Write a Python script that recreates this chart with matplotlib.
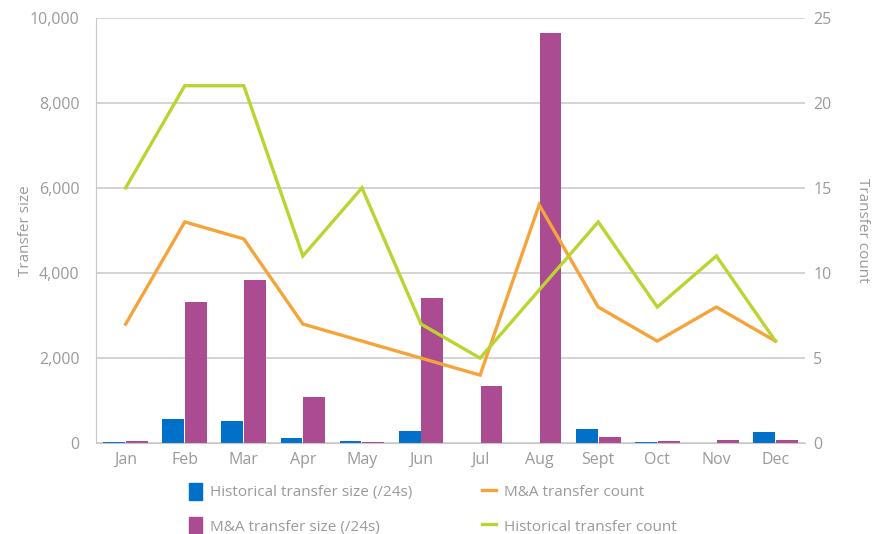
#!/usr/bin/env python3
"""Monthly transfer size (bars) and transfer count (lines) on twin axes."""
import numpy as np
import matplotlib.pyplot as plt
from matplotlib.patches import Patch
from matplotlib.lines import Line2D

MONTHS = ["Jan", "Feb", "Mar", "Apr", "May", "Jun", "Jul", "Aug", "Sept", "Oct", "Nov", "Dec"]
HIST_SIZE = [25, 565, 520, 115, 45, 280, 0, 0, 330, 25, 0, 260]
MA_SIZE = [45, 3320, 3835, 1080, 25, 3410, 1340, 9650, 140, 45, 70, 70]
MA_COUNT = [7, 13, 12, 7, 6, 5, 4, 14, 8, 6, 8, 6]
HIST_COUNT = [15, 21, 21, 11, 15, 7, 5, 9, 13, 8, 11, 6]

BLUE = "#0070c9"
PURPLE = "#ab4b91"
ORANGE = "#f6a43a"
GREEN = "#bad531"
GRID = "#c8c8c8"
TEXT = "#9a9a9a"

plt.rcParams["font.family"] = ["Open Sans", "DejaVu Sans"]

fig = plt.figure(figsize=(8.74, 5.34), dpi=100)
ax = fig.add_axes([0.110, 0.170, 0.811, 0.797])
ax2 = ax.twinx()

x = np.arange(len(MONTHS))
w = 0.37
ax.bar(x - w / 2 - 0.008, HIST_SIZE, width=w, color=BLUE, zorder=2)
ax.bar(x + w / 2 + 0.008, MA_SIZE, width=w, color=PURPLE, zorder=2)

ax2.plot(x, MA_COUNT, color=ORANGE, linewidth=2.4, solid_joinstyle="miter")
ax2.plot(x, HIST_COUNT, color=GREEN, linewidth=2.4, solid_joinstyle="miter")

ax.set_xlim(-0.5, len(MONTHS) - 0.5)
ax.set_ylim(0, 10000)
ax2.set_ylim(0, 25)
ax.set_yticks(range(0, 10001, 2000))
ax.set_yticklabels([f"{v:,}" for v in range(0, 10001, 2000)])
ax2.set_yticks(range(0, 26, 5))
ax.set_xticks(x)
ax.set_xticklabels(MONTHS)

ax.grid(axis="y", color=GRID, linewidth=1.1, zorder=0)
ax.set_axisbelow(True)
for a in (ax, ax2):
    for side in ("top", "right"):
        a.spines[side].set_visible(False)
    a.tick_params(length=0, colors=TEXT, labelsize=11.5)
ax2.spines["left"].set_visible(False)
ax2.spines["bottom"].set_visible(False)
ax.spines["left"].set_color(GRID)
ax.spines["bottom"].set_color(GRID)
ax.tick_params(axis="y", pad=12)
ax.tick_params(axis="x", pad=6)
ax2.tick_params(axis="y", pad=6)

ax.set_ylabel("Transfer size", color=TEXT, fontsize=11, labelpad=-2)
ax2.set_ylabel("Transfer count", color=TEXT, fontsize=11, rotation=270, labelpad=28)

handles = [
    Patch(color=BLUE, label="Historical transfer size (/24s)"),
    Patch(color=PURPLE, label="M&A transfer size (/24s)"),
    Line2D([], [], color=ORANGE, linewidth=2.4, label="M&A transfer count"),
    Line2D([], [], color=GREEN, linewidth=2.4, label="Historical transfer count"),
]
leg = fig.legend(handles=handles, loc="lower left", bbox_to_anchor=(0.200, -0.028), ncol=2,
                 frameon=False, fontsize=11, labelcolor=TEXT, columnspacing=4.6,
                 handlelength=0.9, handleheight=1.4, handletextpad=0.5, labelspacing=1.1)

fig.savefig("out.png", dpi=100)
